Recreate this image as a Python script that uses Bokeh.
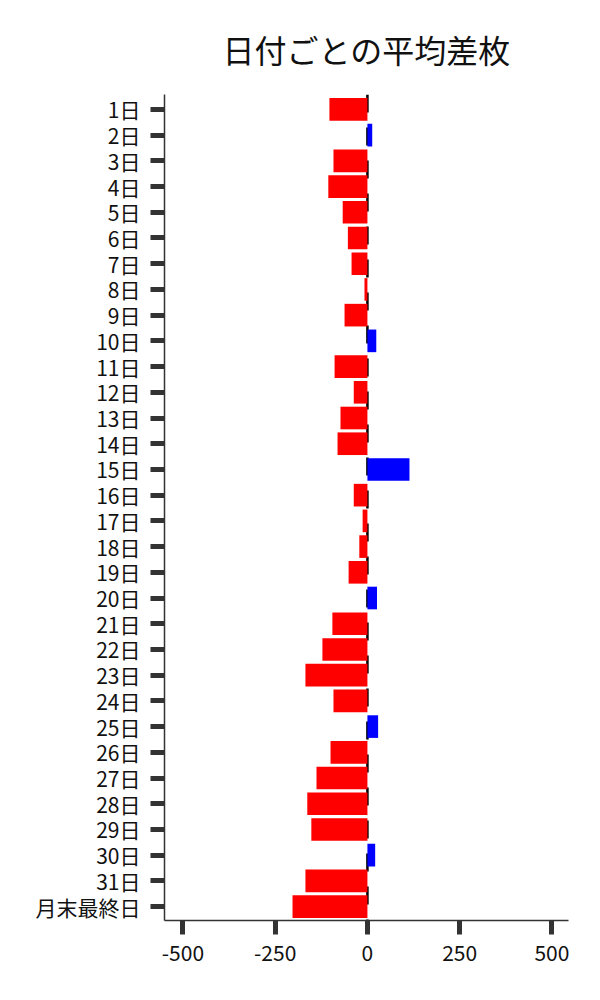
from bokeh.plotting import figure
from bokeh.models import Range1d, FixedTicker, Span, ColumnDataSource
from bokeh.embed import file_html
from bokeh.resources import INLINE

# ---- data ----
categories = ["1日", "2日", "3日", "4日", "5日", "6日", "7日", "8日", "9日", "10日",
              "11日", "12日", "13日", "14日", "15日", "16日", "17日", "18日", "19日", "20日",
              "21日", "22日", "23日", "24日", "25日", "26日", "27日", "28日", "29日", "30日",
              "31日", "月末最終日"]
avg_diff = [-103, 13, -92, -106, -67, -53, -43, -8, -62, 24,
            -89, -37, -73, -81, 114, -37, -13, -22, -51, 26,
            -95, -122, -168, -92, 29, -100, -138, -163, -152, 21,
            -168, -203]
x_ticks = [-500, -250, 0, 250, 500]
x_tick_labels = ["-500", "-250", "0", "250", "500"]

FONT = "Noto Sans CJK JP"

idx = list(range(len(categories)))
colors = ["#0000FF" if v > 0 else "#FF0000" for v in avg_diff]
src = ColumnDataSource(dict(y=idx, v=avg_diff, c=colors))

p = figure(width=600, height=1000, output_backend="svg", toolbar_location=None,
           x_range=Range1d(-550, 545), y_range=Range1d(31.54, -0.58),
           min_border_left=164, min_border_right=32, min_border_top=92,
           min_border_bottom=80)

p.title.text = "日付ごとの平均差枚"
p.title.align = "center"
p.title.text_font = FONT
p.title.text_font_size = "32px"
p.title.text_font_style = "normal"
p.title.text_color = "#111111"
p.title.standoff = 46

zero = Span(location=0, dimension="height", line_color="black", line_width=2.5,
            line_dash="18 15", level="underlay")
p.add_layout(zero)

p.hbar(y="y", left=0, right="v", height=0.88, fill_color="c", line_color=None, source=src)

p.xgrid.visible = False
p.ygrid.visible = False
p.outline_line_color = None

p.xaxis.ticker = FixedTicker(ticks=x_ticks)
p.xaxis.major_label_overrides = dict(zip(x_ticks, x_tick_labels))
p.yaxis.ticker = FixedTicker(ticks=idx)
p.yaxis.major_label_overrides = {i: c for i, c in enumerate(categories)}

for ax in (p.xaxis, p.yaxis):
    ax.axis_line_color = "#333333"
    ax.axis_line_width = 1.5
    ax.major_tick_line_color = "#333333"
    ax.major_tick_line_width = 5
    ax.major_tick_out = 14
    ax.major_tick_in = 0
    ax.minor_tick_line_color = None
    ax.major_label_text_font = FONT
    ax.major_label_text_font_size = "21px"
    ax.major_label_text_color = "#111111"
    ax.major_label_standoff = 10

open("out.html", "w").write(file_html(p, INLINE))
